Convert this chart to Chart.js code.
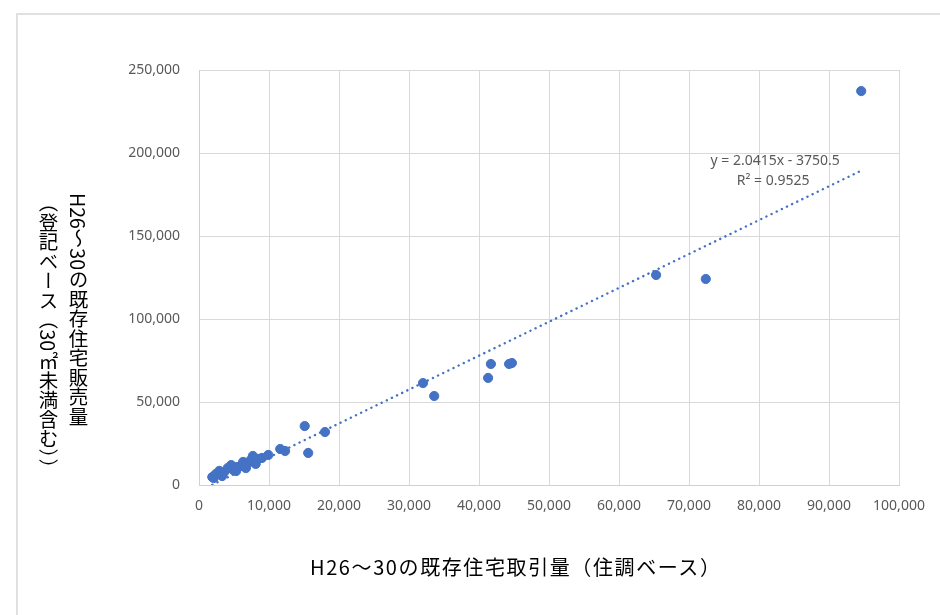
<!DOCTYPE html>
<html lang="ja">
<head>
<meta charset="utf-8">
<title>既存住宅取引量と販売量</title>
<script src="https://cdn.jsdelivr.net/npm/chart.js@4.4.1/dist/chart.umd.min.js"></script>
<style>
    html, body {
        margin: 0;
        padding: 0;
        background: #ffffff;
        overflow: hidden;
    }

    .page {
        position: relative;
        width: 940px;
        height: 615px;
    }

    .frame {
        position: absolute;
        left: 16px;
        top: 13px;
        width: 1000px;
        height: 700px;
        border-top: 2px solid #e0e0e0;
        border-left: 2px solid #e0e0e0;
    }

    #chartBox {
        position: absolute;
        left: 0;
        top: 0;
        width: 940px;
        height: 615px;
    }

    .x-title {
        position: absolute;
        left: 310px;
        top: 552px;
        font-family: "Noto Sans CJK JP", sans-serif;
        font-size: 20px;
        letter-spacing: 1.6px;
        color: #000000;
        white-space: nowrap;
    }

    .y-title {
        position: absolute;
        left: 33px;
        top: 193px;
        height: 300px;
        writing-mode: vertical-rl;
        text-orientation: mixed;
        font-family: "Noto Sans CJK JP", sans-serif;
        font-size: 19.5px;
        line-height: 30px;
        color: #000000;
        white-space: nowrap;
    }
</style>
</head>
<body>

<div class="page">
    <div class="frame"></div>
    <div id="chartBox"><canvas id="scatterChart"></canvas></div>
    <div class="x-title">H26～30の既存住宅取引量（住調ベース）</div>
    <div class="y-title">H26～30の既存住宅販売量<br>（登記ベース（30㎡未満含む））</div>
</div>

<script>
// ================================
// Data
// x: 取引量 (住調ベース), y: 販売量 (登記ベース)
// ================================

const xValues = [
    1900, 2100, 2400, 2900, 3300, 3600, 4100, 4600, 4900, 5300,
    5400, 5900, 6300, 6600, 6700, 7000, 7400, 7700, 8000, 8100,
    8400, 9000, 9900, 11600, 12300, 15100, 15600, 18000, 32000, 33600,
    41300, 41700, 44300, 44700, 65300, 72400, 94600
];

const yValues = [
    4800, 4200, 6600, 8500, 5400, 7800, 10200, 12000, 9000, 8400,
    10800, 11400, 13900, 11400, 10200, 13300, 15100, 17500, 13900, 12700,
    15700, 16300, 18100, 21700, 20500, 35500, 19300, 31900, 61400, 53600,
    64500, 72900, 72900, 73500, 126500, 124100, 237300
];

// 線形近似 (Excel trendline)
const trendSlope = 2.0415;
const trendIntercept = -3750.5;
const trendLabels = ["y = 2.0415x - 3750.5", "R² = 0.9525"];

// Axis ticks
const xTicks = [0, 10000, 20000, 30000, 40000, 50000, 60000, 70000, 80000, 90000, 100000];
const yTicks = [0, 50000, 100000, 150000, 200000, 250000];

// ================================
// Build datasets
// ================================

const points = xValues.map((x, i) => ({ x: x, y: yValues[i] }));

const xMin = Math.min(...xValues);
const xMax = Math.max(...xValues);

const trendPoints = [
    { x: xMin, y: trendSlope * xMin + trendIntercept },
    { x: xMax, y: trendSlope * xMax + trendIntercept }
];

function fmt(v) {
    return Number(v).toLocaleString("en-US");
}

// trendline equation text
const trendLabelPlugin = {
    id: "trendLabel",
    afterDatasetsDraw(chart) {
        const ctx = chart.ctx;
        const xs = chart.scales.x;
        const ys = chart.scales.y;
        const cx = xs.getPixelForValue(82300);
        const cy = ys.getPixelForValue(195000);

        ctx.save();
        ctx.font = "14px 'Noto Sans', sans-serif";
        ctx.fillStyle = "#595959";
        ctx.textAlign = "center";
        ctx.textBaseline = "middle";
        ctx.fillText(trendLabels[0], cx, cy);
        ctx.fillText(trendLabels[1], cx - 2, cy + 20);
        ctx.restore();
    }
};

Chart.defaults.font.family = "'Noto Sans', sans-serif";
Chart.defaults.color = "#595959";

new Chart(document.getElementById("scatterChart"), {

    type: "scatter",

    data: {
        datasets: [
            {
                label: "trend",
                data: trendPoints,
                showLine: true,
                borderColor: "#4472C4",
                borderWidth: 2.4,
                borderCapStyle: "round",
                borderDash: [0.1, 5.6],
                pointRadius: 0,
                fill: false,
                order: 0
            },
            {
                label: "販売量",
                data: points,
                backgroundColor: "#4472C4",
                borderColor: "#4472C4",
                borderWidth: 1,
                pointRadius: 4.6,
                order: 1
            }
        ]
    },

    options: {
        responsive: true,
        maintainAspectRatio: false,
        animation: false,
        layout: {
            padding: { top: 70, right: 41, left: 0, bottom: 0 }
        },
        plugins: {
            legend: { display: false },
            tooltip: { enabled: false }
        },
        scales: {
            x: {
                type: "linear",
                min: 0,
                max: 100000,
                afterBuildTicks: scale => {
                    scale.ticks = xTicks.map(v => ({ value: v }));
                },
                afterFit: scale => {
                    scale.height = 130;
                },
                ticks: {
                    padding: 13,
                    font: { size: 14 },
                    color: "#595959",
                    maxRotation: 0,
                    callback: v => fmt(v)
                },
                grid: {
                    color: "#d9d9d9",
                    lineWidth: 1,
                    drawTicks: false
                },
                border: { color: "#d0d0d0" }
            },
            y: {
                type: "linear",
                min: 0,
                max: 250000,
                afterBuildTicks: scale => {
                    scale.ticks = yTicks.map(v => ({ value: v }));
                },
                afterFit: scale => {
                    scale.width = 199;
                },
                ticks: {
                    padding: 19,
                    font: { size: 14 },
                    color: "#595959",
                    callback: v => fmt(v)
                },
                grid: {
                    color: "#d9d9d9",
                    lineWidth: 1,
                    drawTicks: false
                },
                border: { color: "#d0d0d0" }
            }
        }
    },

    plugins: [trendLabelPlugin]

});
</script>

</body>
</html>
